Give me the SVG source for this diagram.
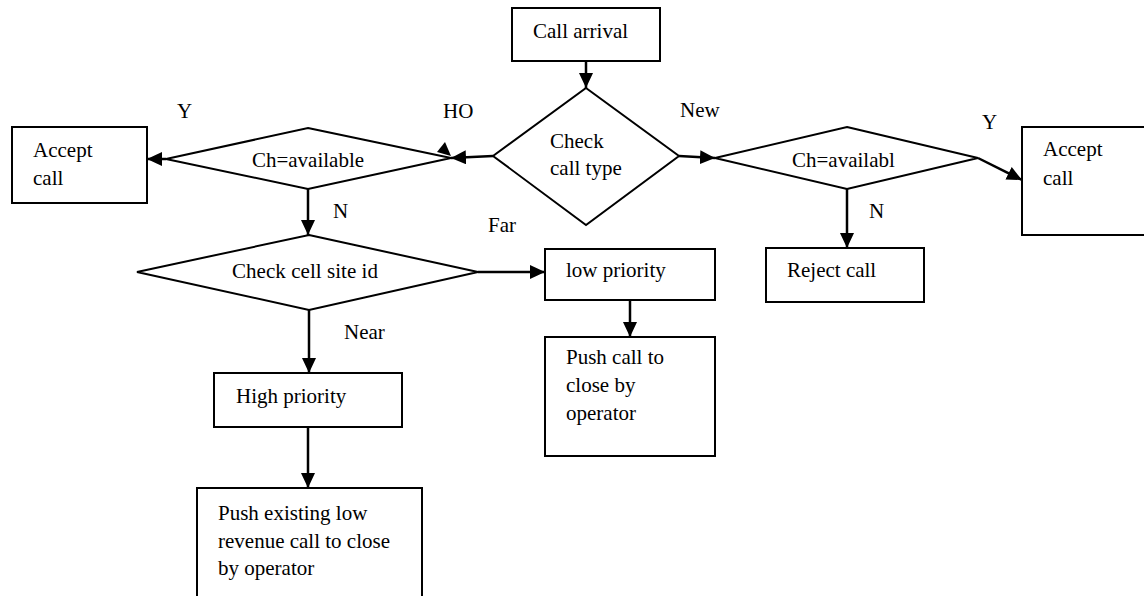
<svg xmlns="http://www.w3.org/2000/svg" width="1144" height="596" viewBox="0 0 1144 596">
<style>
.box{fill:#fff;stroke:#000;stroke-width:2}
.t{font-family:"Liberation Serif","Times New Roman",serif;font-size:21px;fill:#000}
.c{fill:none;stroke:#000;stroke-width:2.5}
</style>
<defs>
<marker id="ah" markerUnits="userSpaceOnUse" markerWidth="16" markerHeight="14" refX="15" refY="7" orient="auto">
<path d="M0,0 L15,7 L0,14 z" fill="#000"/>
</marker>
</defs>
<rect width="1144" height="596" fill="#fff"/>
<g id="call-arrival"><rect class="box" x="512" y="8" width="148" height="53"/><text class="t" x="533" y="38">Call arrival</text></g>
<g id="check-call-type"><polygon class="box" points="586,88 679,156 586,225 493,156"/><text class="t" x="550" y="148">Check</text><text class="t" x="550" y="175">call type</text></g>
<g id="ch-available-left"><polygon class="box" points="308,128 451,158 308,189 166,159"/><text class="t" x="308" y="167" text-anchor="middle">Ch=available</text></g>
<g id="accept-left"><rect class="box" x="12" y="127" width="135" height="76"/><text class="t" x="33" y="157">Accept</text><text class="t" x="33" y="185">call</text></g>
<g id="ch-available-right"><polygon class="box" points="847,127 978,158 847,189 715,158"/><text class="t" x="792" y="167">Ch=availabl</text></g>
<g id="accept-right"><rect class="box" x="1022" y="127" width="126" height="108"/><text class="t" x="1043" y="156">Accept</text><text class="t" x="1043" y="185">call</text></g>
<g id="reject"><rect class="box" x="766" y="248" width="158" height="54"/><text class="t" x="787" y="277">Reject call</text></g>
<g id="check-cell-site"><polygon class="box" points="309,235 478,272 309,310 137,272"/><text class="t" x="232" y="278" textLength="146" lengthAdjust="spacing">Check cell site id</text></g>
<g id="low-priority"><rect class="box" x="545" y="249" width="170" height="51"/><text class="t" x="566" y="277">low priority</text></g>
<g id="push-call"><rect class="box" x="545" y="337" width="170" height="119"/><text class="t" x="566" y="364">Push call to</text><text class="t" x="566" y="392">close by</text><text class="t" x="566" y="420">operator</text></g>
<g id="high-priority"><rect class="box" x="214" y="373" width="188" height="54"/><text class="t" x="236" y="403">High priority</text></g>
<g id="push-existing"><rect class="box" x="197" y="488" width="225" height="112"/><text class="t" x="218" y="520">Push existing low</text><text class="t" x="218" y="548">revenue call to close</text><text class="t" x="218" y="575">by operator</text></g>
<g id="connectors">
<line class="c" x1="586" y1="61" x2="586" y2="88" marker-end="url(#ah)"/>
<line class="c" x1="493" y1="156" x2="451" y2="158" marker-end="url(#ah)"/>
<polygon points="437,152 445,142 451,156" fill="#000"/>
<line class="c" x1="166" y1="159" x2="147" y2="159" marker-end="url(#ah)"/>
<line class="c" x1="308" y1="189" x2="308" y2="235" marker-end="url(#ah)"/>
<line class="c" x1="478" y1="272" x2="545" y2="272" marker-end="url(#ah)"/>
<line class="c" x1="630" y1="300" x2="630" y2="337" marker-end="url(#ah)"/>
<line class="c" x1="309" y1="310" x2="309" y2="373" marker-end="url(#ah)"/>
<line class="c" x1="308" y1="427" x2="308" y2="488" marker-end="url(#ah)"/>
<line class="c" x1="679" y1="156" x2="715" y2="158" marker-end="url(#ah)"/>
<line class="c" x1="978" y1="158" x2="1022" y2="180" marker-end="url(#ah)"/>
<line class="c" x1="847" y1="189" x2="847" y2="248" marker-end="url(#ah)"/>
</g>
<g id="labels">
<text class="t" x="177" y="118">Y</text>
<text class="t" x="443" y="118">HO</text>
<text class="t" x="680" y="117">New</text>
<text class="t" x="982" y="129">Y</text>
<text class="t" x="333" y="218">N</text>
<text class="t" x="869" y="218">N</text>
<text class="t" x="488" y="232">Far</text>
<text class="t" x="344" y="339">Near</text>
</g>
</svg>
